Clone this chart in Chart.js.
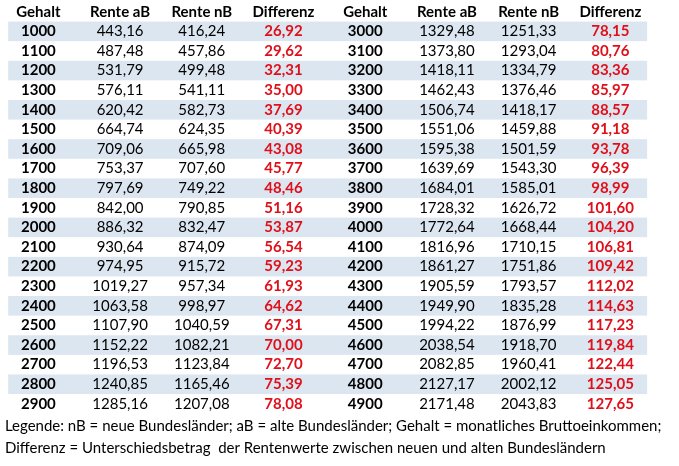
<!DOCTYPE html>
<html>
<head>
<meta charset="utf-8">
<script src="https://cdn.jsdelivr.net/npm/chart.js@4/dist/chart.umd.min.js"></script>
<style>
  html, body { margin: 0; padding: 0; background: #fff; }
  #wrap { width: 679px; height: 466px; }
</style>
</head>
<body>
<div id="wrap"><canvas id="tbl"></canvas></div>
<script>
const headers = ['Gehalt', 'Rente aB', 'Rente nB', 'Differenz', 'Gehalt', 'Rente aB', 'Rente nB', 'Differenz'];

const gehaltLeft = ['1000','1100','1200','1300','1400','1500','1600','1700','1800','1900','2000','2100','2200','2300','2400','2500','2600','2700','2800','2900'];
const renteABLeft = ['443,16','487,48','531,79','576,11','620,42','664,74','709,06','753,37','797,69','842,00','886,32','930,64','974,95','1019,27','1063,58','1107,90','1152,22','1196,53','1240,85','1285,16'];
const renteNBLeft = ['416,24','457,86','499,48','541,11','582,73','624,35','665,98','707,60','749,22','790,85','832,47','874,09','915,72','957,34','998,97','1040,59','1082,21','1123,84','1165,46','1207,08'];
const diffLeft = ['26,92','29,62','32,31','35,00','37,69','40,39','43,08','45,77','48,46','51,16','53,87','56,54','59,23','61,93','64,62','67,31','70,00','72,70','75,39','78,08'];

const gehaltRight = ['3000','3100','3200','3300','3400','3500','3600','3700','3800','3900','4000','4100','4200','4300','4400','4500','4600','4700','4800','4900'];
const renteABRight = ['1329,48','1373,80','1418,11','1462,43','1506,74','1551,06','1595,38','1639,69','1684,01','1728,32','1772,64','1816,96','1861,27','1905,59','1949,90','1994,22','2038,54','2082,85','2127,17','2171,48'];
const renteNBRight = ['1251,33','1293,04','1334,79','1376,46','1418,17','1459,88','1501,59','1543,30','1585,01','1626,72','1668,44','1710,15','1751,86','1793,57','1835,28','1876,99','1918,70','1960,41','2002,12','2043,83'];
const diffRight = ['78,15','80,76','83,36','85,97','88,57','91,18','93,78','96,39','98,99','101,60','104,20','106,81','109,42','112,02','114,63','117,23','119,84','122,44','125,05','127,65'];

const legendLines = [
  'Legende: nB = neue Bundesländer; aB = alte Bundesländer; Gehalt = monatliches Bruttoeinkommen;',
  'Differenz = Unterschiedsbetrag  der Rentenwerte zwischen neuen und alten Bundesländern'
];

const columns = [gehaltLeft, renteABLeft, renteNBLeft, diffLeft, gehaltRight, renteABRight, renteNBRight, diffRight];

// one invisible point per cell so the scales place them
const cells = [];
columns.forEach((col, c) => col.forEach((v, r) => cells.push({ x: c, y: r + 1, text: v })));

const FONT = 'Lato, "Open Sans", sans-serif';

const tablePlugin = {
  id: 'tablePlugin',
  afterDatasetsDraw(chart) {
    const { ctx, scales: { x, y } } = chart;
    const rowH = Math.abs(y.getPixelForValue(1) - y.getPixelForValue(0));
    const left = x.getPixelForValue(-0.37), right = x.getPixelForValue(7.45);
    ctx.save();
    // striped rows
    for (let r = 1; r <= gehaltLeft.length; r += 2) {
      const cy = y.getPixelForValue(r);
      ctx.fillStyle = '#dce6f1';
      ctx.fillRect(left, cy - rowH / 2, right - left, rowH);
    }
    ctx.textAlign = 'center';
    ctx.textBaseline = 'middle';
    ctx.font = 'bold 15px ' + FONT;
    ctx.fillStyle = '#000';
    headers.forEach((h, c) => ctx.fillText(h, x.getPixelForValue(c), y.getPixelForValue(0)));
    cells.forEach(p => {
      const c = p.x;
      if (c % 4 === 0) { ctx.font = 'bold 15px ' + FONT; ctx.fillStyle = '#000'; }
      else if (c % 4 === 3) { ctx.font = 'bold 15px ' + FONT; ctx.fillStyle = '#e0101a'; }
      else { ctx.font = '15px ' + FONT; ctx.fillStyle = '#000'; }
      ctx.fillText(p.text, x.getPixelForValue(c), y.getPixelForValue(p.y));
    });
    ctx.textAlign = 'left';
    ctx.font = '15px ' + FONT;
    ctx.fillStyle = '#000';
    legendLines.forEach((t, i) => ctx.fillText(t, x.getPixelForValue(-0.41), y.getPixelForValue(21.15 + i * 1.12)));
    ctx.restore();
  }
};

new Chart(document.getElementById('tbl'), {
  type: 'scatter',
  data: { datasets: [{ data: cells, pointRadius: 0, pointHoverRadius: 0 }] },
  options: {
    responsive: true,
    maintainAspectRatio: false,
    animation: false,
    events: [],
    layout: { padding: 0 },
    plugins: { legend: { display: false }, tooltip: { enabled: false } },
    scales: {
      x: { type: 'linear', display: false, min: -0.47, max: 7.84 },
      y: { type: 'linear', display: false, reverse: true, min: -0.6, max: 23.17 }
    }
  },
  plugins: [tablePlugin]
});
</script>
</body>
</html>
